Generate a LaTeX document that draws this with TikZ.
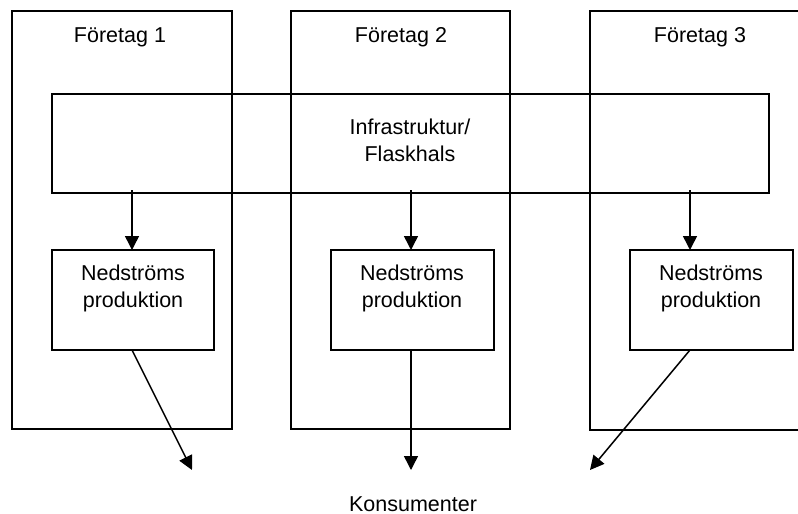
\documentclass[tikz,border=0pt]{standalone}
\usepackage{fontspec}
\setmainfont{Liberation Sans}
\usetikzlibrary{arrows.meta}
\begin{document}
\begin{tikzpicture}[x=1pt,y=-1pt,
  box/.style={draw, line width=1.5pt, inner sep=0pt, outer sep=0pt, anchor=north west},
  lbl/.style={font=\fontsize{21.5}{27}\selectfont, align=center, inner sep=0pt},
  arr/.style={line width=1.5pt, -{Triangle[length=14pt,width=14pt]}}]
\useasboundingbox (0,0) rectangle (798,514);
\clip (0,0) rectangle (798,514);
% company boxes
\node[box, minimum width=220pt, minimum height=418pt] (f1) at (12,11) {};
\node[box, minimum width=219pt, minimum height=418pt] (f2) at (291,11) {};
\node[box, minimum width=230pt, minimum height=419pt] (f3) at (590,11) {};
% infrastructure box
\node[box, minimum width=717pt, minimum height=99pt] (infra) at (52,94) {};
% downstream boxes
\node[box, minimum width=162pt, minimum height=100pt] (ned1) at (52,250) {};
\node[box, minimum width=163pt, minimum height=100pt] (ned2) at (331,250) {};
\node[box, minimum width=163pt, minimum height=100pt] (ned3) at (630,250) {};
% labels
\node[lbl, anchor=base] (t1) at (120,42) {Företag 1};
\node[lbl, anchor=base] (t2) at (401,42) {Företag 2};
\node[lbl, anchor=base] (t3) at (700,42) {Företag 3};
\node[lbl, anchor=north] (ti) at (410,119) {Infrastruktur/\\Flaskhals};
\node[lbl, anchor=north] (n1) at (133,265) {Nedströms\\produktion};
\node[lbl, anchor=north] (n2) at (412,265) {Nedströms\\produktion};
\node[lbl, anchor=north] (n3) at (711,265) {Nedströms\\produktion};
\node[lbl, anchor=base] (kons) at (413,511) {Konsumenter};
% connector points
\coordinate (a1) at (132,190);
\coordinate (a2) at (411,190);
\coordinate (a3) at (690,190);
\coordinate (s3) at (690,350);
\coordinate (c1) at (192,470);
\coordinate (c2) at (411,470);
\coordinate (c3) at (590,470);
% arrows from infrastructure
\draw[arr] (a1) -- (a1 |- ned1.north);
\draw[arr] (a2) -- (a2 |- ned2.north);
\draw[arr] (a3) -- (a3 |- ned3.north);
% arrows to consumers
\draw[arr] (a1 |- ned1.south) -- (c1);
\draw[arr] (a2 |- ned2.south) -- (c2);
\draw[arr] (s3) -- (c3);
\end{tikzpicture}
\end{document}
